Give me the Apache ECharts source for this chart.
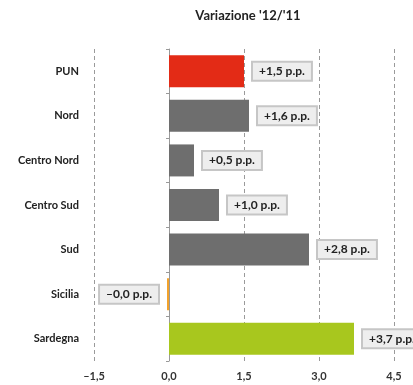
<!DOCTYPE html>
<html>
<head>
<meta charset="utf-8">
<script src="https://cdn.jsdelivr.net/npm/echarts@6/dist/echarts.min.js"></script>
<style>
  html, body { margin: 0; padding: 0; background: #fff; }
  #chart { width: 413px; height: 385px; }
</style>
</head>
<body>
<div id="chart"></div>
<script>
// Regions and their year-on-year change, in percentage points
const categories = ['PUN', 'Nord', 'Centro Nord', 'Centro Sud', 'Sud', 'Sicilia', 'Sardegna'];
const variation = [1.5, 1.6, 0.5, 1.0, 2.8, -0.04, 3.7];
const barColors = ['#e32b16', '#6e6e6e', '#6e6e6e', '#6e6e6e', '#6e6e6e', '#f2a22c', '#a8c71e'];
const xTicks = [-1.5, 0, 1.5, 3.0, 4.5];

const FONT = 'Lato';

function fmtNum(v) {
  return v.toFixed(1).replace('.', ',').replace('-', '–');
}
function fmtLabel(v) {
  return (v < 0 ? '–' : '+') + Math.abs(v).toFixed(1).replace('.', ',') + ' p.p.';
}

const chart = echarts.init(document.getElementById('chart'), null, { renderer: 'canvas' });

chart.setOption({
  animation: false,
  title: {
    text: "Variazione '12/'11",
    left: 243,
    textAlign: 'center',
    top: 4,
    textStyle: { fontFamily: FONT, fontSize: 13, fontWeight: 'bold', color: '#222' }
  },
  grid: { left: 94, right: 19, top: 49, bottom: 24, containLabel: false },
  xAxis: {
    type: 'value',
    min: xTicks[0],
    max: xTicks[xTicks.length - 1],
    interval: 1.5,
    axisLine: { show: false },
    axisTick: { show: false },
    axisLabel: {
      margin: 10,
      fontFamily: FONT, fontSize: 11, fontWeight: 'bold', color: '#333',
      formatter: fmtNum
    },
    splitLine: {
      show: true,
      lineStyle: { type: [4, 3], color: '#9a9a9a', width: 1 }
    }
  },
  yAxis: [
    {
      // category names along the left edge
      type: 'category',
      data: categories,
      inverse: true,
      axisLine: { show: false, onZero: false },
      axisTick: { show: false },
      axisLabel: {
        margin: 15,
        fontFamily: FONT, fontSize: 11, fontWeight: 'bold', color: '#222'
      }
    },
    {
      // baseline with boundary ticks sitting on zero
      type: 'category',
      data: categories,
      inverse: true,
      position: 'left',
      axisLine: { show: true, onZero: true, lineStyle: { color: '#999', width: 1 } },
      axisTick: { show: true, length: 3, lineStyle: { color: '#999' } },
      axisLabel: { show: false }
    }
  ],
  series: [{
    type: 'bar',
    yAxisIndex: 0,
    barWidth: 32,
    z: 3,
    data: variation.map((v, i) => ({
      value: v,
      itemStyle: { color: barColors[i] },
      label: { position: v < 0 ? 'left' : 'right' }
    })),
    label: {
      show: true,
      distance: 9,
      formatter: p => fmtLabel(p.value),
      fontFamily: FONT, fontSize: 12, fontWeight: 'bold', color: '#222',
      backgroundColor: '#eeeeee',
      borderColor: '#c6c6c6',
      borderWidth: 2,
      padding: [3, 6, 2, 6]
    }
  }]
});
</script>
</body>
</html>
